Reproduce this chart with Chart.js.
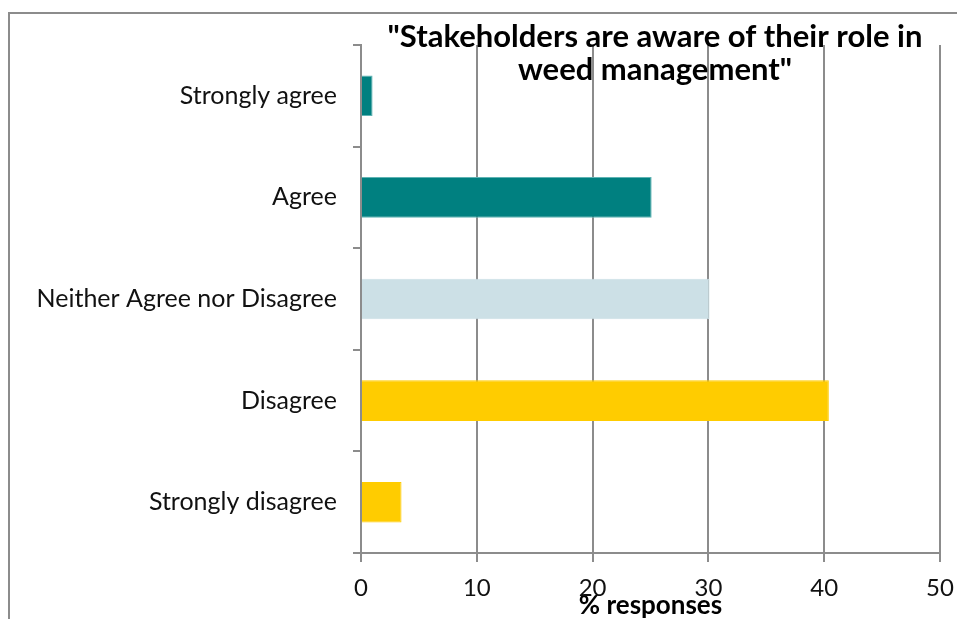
<!DOCTYPE html>
<html>
<head>
<meta charset="utf-8">
<script src="https://cdn.jsdelivr.net/npm/chart.js@4/dist/chart.umd.min.js"></script>
<style>
  html, body { margin: 0; padding: 0; background: #fff; }
  #wrap { position: relative; width: 957px; height: 619px; }
</style>
</head>
<body>
<div id="wrap"><canvas id="chart" width="957" height="619"></canvas></div>
<script>
const categories = ['Strongly agree', 'Agree', 'Neither Agree nor Disagree', 'Disagree', 'Strongly disagree'];
const responses = [1, 25.1, 30.1, 40.4, 3.5];
const xTicks = [0, 10, 20, 30, 40, 50];
const titleLines = ['"Stakeholders are aware of their role in', 'weed management"'];

const barColors = ['#008080', '#008080', '#cce0e6', '#ffcc00', '#ffcc00'];
const barEdges = ['#5fb3b3', '#5fb3b3', '#cce0e6', '#ffcc00', '#ffcc00'];

const FONT = 'Lato, "Open Sans", sans-serif';
const LINE = '#8c8c8c';

// frame round the plot + the two-line heading drawn over the grid
const decor = {
  id: 'decor',
  beforeDraw(chart) {
    const ctx = chart.ctx;
    ctx.save();
    ctx.strokeStyle = LINE;
    ctx.lineWidth = 2;
    ctx.beginPath();
    ctx.moveTo(9, chart.height);
    ctx.lineTo(9, 13);
    ctx.lineTo(chart.width, 13);
    ctx.stroke();
    ctx.restore();
  },
  afterDraw(chart) {
    const ctx = chart.ctx;
    ctx.save();
    ctx.fillStyle = '#000';
    ctx.font = 'bold 31px ' + FONT;
    ctx.textAlign = 'center';
    ctx.textBaseline = 'middle';
    ctx.fillText(titleLines[0], 655, 37);
    ctx.fillText(titleLines[1], 655, 70);
    ctx.restore();
  }
};

new Chart(document.getElementById('chart'), {
  type: 'bar',
  data: {
    labels: categories,
    datasets: [{
      data: responses,
      backgroundColor: barColors,
      borderColor: barEdges,
      borderWidth: 1,
      barPercentage: 0.8,
      categoryPercentage: 0.5
    }]
  },
  options: {
    indexAxis: 'y',
    responsive: false,
    animation: false,
    layout: { padding: { top: 45, right: 17, bottom: 0, left: 0 } },
    plugins: {
      legend: { display: false },
      tooltip: { enabled: false }
    },
    scales: {
      x: {
        min: xTicks[0],
        max: xTicks[xTicks.length - 1],
        afterBuildTicks(scale) { scale.ticks = xTicks.map(v => ({ value: v })); },
        afterFit(scale) {
          scale.height = 66;
          scale.paddingLeft = 0;
          scale.paddingRight = 0;
        },
        grid: { color: LINE, lineWidth: 2, tickLength: 9, drawTicks: true },
        border: { color: LINE, width: 2 },
        ticks: { color: '#111', font: { family: FONT, size: 24 }, padding: 12 },
        title: {
          display: true,
          text: '% responses',
          color: '#000',
          font: { family: FONT, size: 26, weight: 'bold' },
          padding: { top: 0, bottom: -2 }
        }
      },
      y: {
        afterFit(scale) { scale.width = 361; },
        grid: { offset: true, drawOnChartArea: false, color: LINE, lineWidth: 2, tickLength: 8 },
        border: { color: LINE, width: 2 },
        ticks: { color: '#111', font: { family: FONT, size: 25 }, padding: 16 }
      }
    }
  },
  plugins: [decor]
});
</script>
</body>
</html>
